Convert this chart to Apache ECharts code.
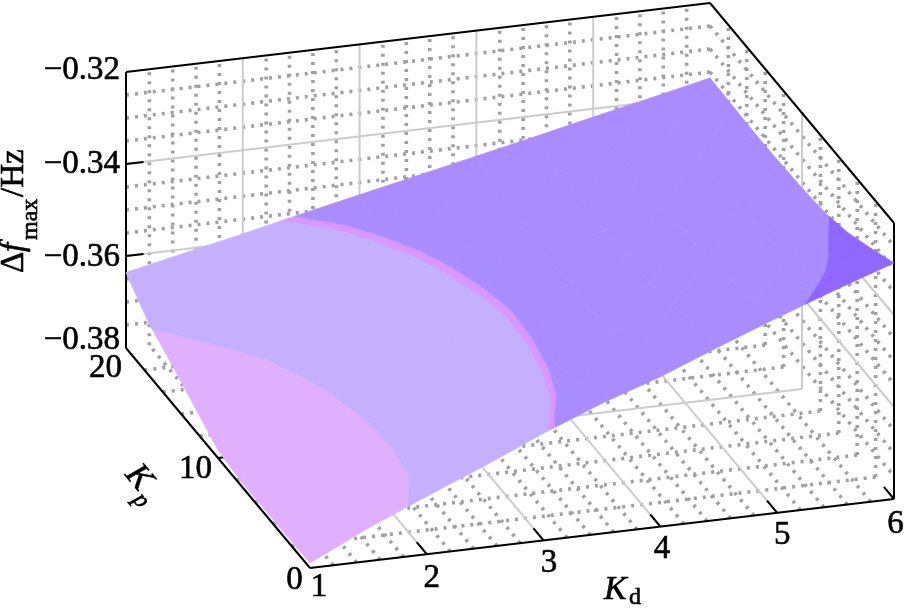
<!DOCTYPE html>
<html>
<head>
<meta charset="utf-8">
<style>
html, body { margin: 0; padding: 0; background: #fff; }
#chart { width: 904px; height: 608px; }
</style>
<script src="https://cdn.jsdelivr.net/npm/echarts@6/dist/echarts.min.js"></script>
</head>
<body>
<div id="chart"></div>
<script>
// surface values
var kdValues = [1, 1.5, 2, 2.5, 3, 3.5, 4, 4.5, 5, 5.5, 6];
var kpValues = [0, 2.5, 5, 7.5, 10, 12.5, 15, 17.5, 20];
var zRows = [
    [-0.3789, -0.3728, -0.3674, -0.3622, -0.3567, -0.3517, -0.3474, -0.3424, -0.3376, -0.3330, -0.3287],
    [-0.3791, -0.3746, -0.3696, -0.3646, -0.3593, -0.3535, -0.3483, -0.3437, -0.3402, -0.3365, -0.3315],
    [-0.3791, -0.3752, -0.3700, -0.3654, -0.3604, -0.3550, -0.3496, -0.3452, -0.3415, -0.3380, -0.3341],
    [-0.3791, -0.3752, -0.3698, -0.3652, -0.3607, -0.3557, -0.3509, -0.3463, -0.3426, -0.3391, -0.3357],
    [-0.3783, -0.3739, -0.3689, -0.3646, -0.3602, -0.3559, -0.3511, -0.3467, -0.3430, -0.3396, -0.3363],
    [-0.3750, -0.3717, -0.3672, -0.3633, -0.3591, -0.3552, -0.3509, -0.3470, -0.3433, -0.3398, -0.3366],
    [-0.3717, -0.3687, -0.3652, -0.3615, -0.3578, -0.3541, -0.3504, -0.3467, -0.3433, -0.3400, -0.3367],
    [-0.3687, -0.3659, -0.3628, -0.3593, -0.3557, -0.3524, -0.3493, -0.3461, -0.3428, -0.3396, -0.3365],
    [-0.3636, -0.3609, -0.3582, -0.3554, -0.3527, -0.3500, -0.3473, -0.3446, -0.3418, -0.3391, -0.3363]
];
// colour bands of the surface
var zBreaks = [-0.3691, -0.3563, -0.3557, -0.3354];
var bandColors = ['#E0B0FF', '#C4B0FF', '#D898FF', '#A98DFF', '#9068FF'];

// axis ticks
var kdTicks = [1, 2, 3, 4, 5, 6];
var kpTicks = [0, 10, 20];
var zTicks = [-0.38, -0.36, -0.34, -0.32];
var kdMinor = [1.2, 1.4, 1.6, 1.8, 2.2, 2.4, 2.6, 2.8, 3.2, 3.4, 3.6, 3.8, 4.2, 4.4, 4.6, 4.8, 5.2, 5.4, 5.6, 5.8];
var kpMinor = [2, 4, 6, 8, 12, 14, 16, 18];
var zMinor = [-0.375, -0.37, -0.365, -0.355, -0.35, -0.345, -0.335, -0.33, -0.325];
var kdLabels = ['1', '2', '3', '4', '5', '6'];
var kpLabels = ['0', '10', '20'];
var zLabels = ['\u22120.38', '\u22120.36', '\u22120.34', '\u22120.32'];

// label nudges in px, same order as the ticks
var kdLabelOffset = [[9, 19], [5, 24], [5.5, 23], [1.6, 22.5], [5, 23], [1.5, 25]];
var kpLabelOffset = [[-15.5, 12], [-22.5, 11], [-20.5, 20]];
var zLabelOffset = [[-6, -8], [-6, 1], [-6, 0], [-6, -2]];

var kdMin = 1, kdMax = 6, kpMin = 0, kpMax = 20, zMin = -0.38, zMax = -0.32;
var serif = '"Liberation Serif", "Times New Roman", serif';

// oblique view of the box, the picture has no visible perspective
function project(kd, kp, z) {
    return [
        310 + (kd - 1) * 116.8 - kp * 9.2,
        568 - (kd - 1) * 13.8 - kp * 11 - (z - zMin) * 4600
    ];
}

// keep the part of a polygon on one side of a z level
function clipZ(poly, level, keepAbove) {
    var res = [];
    for (var i = 0; i < poly.length; i++) {
        var a = poly[i], b = poly[(i + 1) % poly.length];
        var aIn = keepAbove ? a[2] >= level : a[2] <= level;
        var bIn = keepAbove ? b[2] >= level : b[2] <= level;
        if (aIn) res.push(a);
        if (aIn !== bIn) {
            var t = (level - a[2]) / (b[2] - a[2]);
            res.push([a[0] + (b[0] - a[0]) * t, a[1] + (b[1] - a[1]) * t, level]);
        }
    }
    return res;
}

function renderCell(params, api) {
    var i = api.value(0), j = api.value(1);
    var p00 = [kdValues[i], kpValues[j], zRows[j][i]];
    var p10 = [kdValues[i + 1], kpValues[j], zRows[j][i + 1]];
    var p01 = [kdValues[i], kpValues[j + 1], zRows[j + 1][i]];
    var p11 = [kdValues[i + 1], kpValues[j + 1], zRows[j + 1][i + 1]];
    var tris = [[p00, p10, p11], [p00, p11, p01]];
    var children = [];
    tris.forEach(function (tri) {
        for (var b = 0; b < bandColors.length; b++) {
            var poly = tri;
            if (b > 0) poly = clipZ(poly, zBreaks[b - 1], true);
            if (b < zBreaks.length && poly.length) poly = clipZ(poly, zBreaks[b], false);
            if (poly.length < 3) continue;
            children.push({
                type: 'polygon',
                shape: {
                    points: poly.map(function (p) {
                        return api.coord(project(p[0], p[1], p[2]));
                    })
                },
                style: { fill: bandColors[b], stroke: bandColors[b], lineWidth: 0.8 }
            });
        }
    });
    return { type: 'group', children: children };
}

var lineKinds = [
    { stroke: '#A0A0A0', lineWidth: 3.6, lineDash: [3, 6] },
    { stroke: '#CCCCCC', lineWidth: 2 },
    { stroke: '#000000', lineWidth: 2 }
];

function renderLine(params, api) {
    var a = api.coord(project(api.value(0), api.value(1), api.value(2)));
    var b = api.coord(project(api.value(3), api.value(4), api.value(5)));
    var kind = lineKinds[api.value(6)];
    return {
        type: 'line',
        shape: { x1: a[0], y1: a[1], x2: b[0], y2: b[1] },
        style: { stroke: kind.stroke, lineWidth: kind.lineWidth, lineDash: kind.lineDash || null, fill: null }
    };
}

function wallLines(kds, kps, zs, kind) {
    var res = [];
    kds.forEach(function (kd) {
        res.push([kd, kpMin, zMin, kd, kpMax, zMin, kind]);
        res.push([kd, kpMax, zMin, kd, kpMax, zMax, kind]);
    });
    kps.forEach(function (kp) {
        res.push([kdMin, kp, zMin, kdMax, kp, zMin, kind]);
        res.push([kdMax, kp, zMin, kdMax, kp, zMax, kind]);
    });
    zs.forEach(function (z) {
        res.push([kdMin, kpMax, z, kdMax, kpMax, z, kind]);
        res.push([kdMax, kpMax, z, kdMax, kpMin, z, kind]);
    });
    return res;
}

var gridData = wallLines(kdMinor, kpMinor, zMinor, 0)
    .concat(wallLines([2, 3, 4, 5], [10], [-0.36, -0.34], 1));

// black frame and short ticks go on top of the grid
var frameData = [
    [kdMin, kpMin, zMin, kdMax, kpMin, zMin, 2],
    [kdMin, kpMin, zMin, kdMin, kpMax, zMin, 2],
    [kdMin, kpMax, zMin, kdMin, kpMax, zMax, 2],
    [kdMin, kpMax, zMax, kdMax, kpMax, zMax, 2],
    [kdMax, kpMax, zMax, kdMax, kpMin, zMax, 2],
    [kdMax, kpMin, zMax, kdMax, kpMin, zMin, 2]
];
[2, 3, 4, 5, 6].forEach(function (kd) {
    frameData.push([kd, kpMin, zMin, kd, 1.1, zMin, 2]);
});
frameData.push([kdMin, 10, zMin, 1.07, 10, zMin, 2]);
[-0.36, -0.34].forEach(function (z) {
    frameData.push([kdMin, kpMax, z, 1.15, kpMax, z, 2]);
});

var cellData = [];
for (var j = kpValues.length - 2; j >= 0; j--) {
    for (var i = 0; i < kdValues.length - 1; i++) {
        cellData.push([i, j]);
    }
}

var labelData = [];
kdTicks.forEach(function (kd, n) {
    labelData.push([kd, kpMin, zMin, kdLabelOffset[n][0], kdLabelOffset[n][1], kdLabels[n], 'center']);
});
kpTicks.forEach(function (kp, n) {
    labelData.push([kdMin, kp, zMin, kpLabelOffset[n][0], kpLabelOffset[n][1], kpLabels[n], 'center']);
});
zTicks.forEach(function (z, n) {
    labelData.push([kdMin, kpMax, z, zLabelOffset[n][0], zLabelOffset[n][1], zLabels[n], 'right']);
});

function renderLabel(params, api) {
    var d = labelData[params.dataIndex];
    var p = api.coord(project(d[0], d[1], d[2]));
    return {
        type: 'text',
        x: p[0] + d[3],
        y: p[1] + d[4],
        style: { text: d[5], font: '33px ' + serif, fill: '#000', stroke: '#000', lineWidth: 0.6, align: d[6], verticalAlign: 'middle' }
    };
}

function titlePart(text, x, y, size, italic, rot) {
    return {
        type: 'text',
        x: x,
        y: y,
        rotation: (rot || 0) * Math.PI / 180,
        style: {
            text: text,
            font: (italic ? 'italic ' : '') + size + 'px ' + serif,
            fill: '#000',
            stroke: '#000',
            lineWidth: 0.6,
            align: 'left',
            verticalAlign: 'middle'
        }
    };
}

var myChart = echarts.init(document.getElementById('chart'));
var option = {
    animation: false,
    backgroundColor: '#fff',
    grid: { left: 0, right: 0, top: 0, bottom: 0 },
    xAxis: { type: 'value', min: 0, max: 904, show: false },
    yAxis: { type: 'value', min: 0, max: 608, inverse: true, show: false },
    graphic: [
        // Kd
        titlePart('K', 604, 590, 34, true),
        titlePart('d', 629, 598, 24, false),
        // Kp, rotated along its axis
        titlePart('K', 131, 469, 34, true, -50),
        titlePart('p', 137, 496, 24, true, -50),
        // y title
        titlePart('\u0394', 14, 273, 33, false, 90),
        titlePart('f', 14, 252, 33, true, 90),
        titlePart('max', 31, 240, 24, false, 90),
        titlePart('/Hz', 14, 197, 33, false, 90)
    ],
    series: [
        { type: 'custom', name: 'grid', coordinateSystem: 'cartesian2d', clip: false, silent: true, renderItem: renderLine, data: gridData, z: 1 },
        { type: 'custom', name: 'frame', coordinateSystem: 'cartesian2d', clip: false, silent: true, renderItem: renderLine, data: frameData, z: 2 },
        { type: 'custom', name: 'surface', coordinateSystem: 'cartesian2d', clip: false, silent: true, renderItem: renderCell, data: cellData, z: 3 },
        { type: 'custom', name: 'labels', coordinateSystem: 'cartesian2d', clip: false, silent: true, renderItem: renderLabel, data: labelData.map(function (d, n) { return [n]; }), z: 4 }
    ]
};
myChart.setOption(option);
</script>
</body>
</html>
